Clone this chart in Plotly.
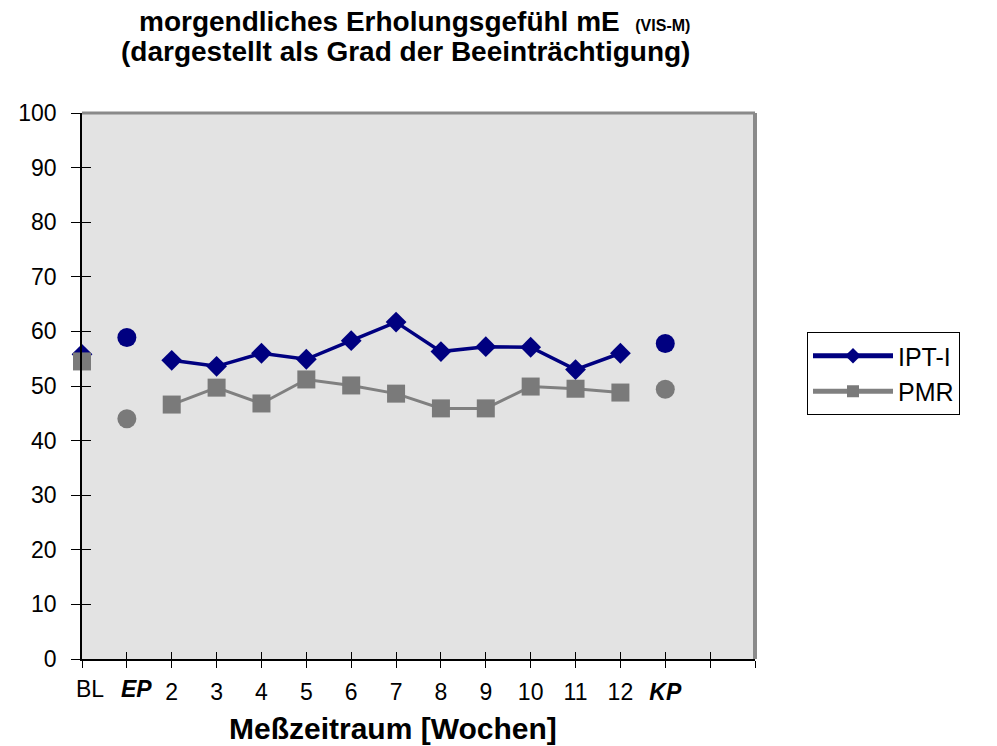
import plotly.graph_objects as go

# ---- data ----
categories = ["BL", "EP", "2", "3", "4", "5", "6", "7", "8", "9", "10", "11", "12", "KP", "", ""]
ipt_weekly = [55.8, None, 54.7, 53.6, 56.0, 54.9, 58.3, 61.7, 56.3, 57.2, 57.1, 53.0, 56.0, None, None, None]
pmr_weekly = [54.5, None, 46.6, 49.7, 46.8, 51.2, 50.1, 48.6, 45.9, 45.9, 49.9, 49.5, 48.8, None, None, None]
ipt_points = [None, 58.9, None, None, None, None, None, None, None, None, None, None, None, 57.8, None, None]
pmr_points = [None, 44.0, None, None, None, None, None, None, None, None, None, None, None, 49.4, None, None]
y_ticks = [0, 10, 20, 30, 40, 50, 60, 70, 80, 90, 100]

title_line1 = "morgendliches Erholungsgefühl mE"
title_suffix = "(VIS-M)"
title_line2 = "(dargestellt als Grad der Beeinträchtigung)"
x_title = "Meßzeitraum [Wochen]"

NAVY = "#000080"
GRAY = "#7a7a7a"
FONT = "Liberation Sans, Arial, sans-serif"

xs = list(range(len(categories)))
PW, PH, L, T = 673, 546, 82, 113   # plot size and margins (pixels)

fig = go.Figure()
fig.add_trace(go.Scatter(
    x=xs, y=ipt_weekly, name="IPT-I", mode="lines+markers",
    line=dict(color=NAVY, width=3.5),
    marker=dict(symbol="diamond", size=16, color=NAVY),
    cliponaxis=False, connectgaps=False))
fig.add_trace(go.Scatter(
    x=xs, y=pmr_weekly, name="PMR", mode="lines+markers",
    line=dict(color="#808080", width=3),
    marker=dict(symbol="square", size=18, color=GRAY),
    cliponaxis=False, connectgaps=False))
fig.add_trace(go.Scatter(
    x=xs, y=ipt_points, mode="markers", showlegend=False,
    marker=dict(symbol="circle", size=19, color=NAVY), cliponaxis=False))
fig.add_trace(go.Scatter(
    x=xs, y=pmr_points, mode="markers", showlegend=False,
    marker=dict(symbol="circle", size=19, color=GRAY), cliponaxis=False))
# invisible trace to activate overlay axes (inside tick marks -> crossing ticks)
fig.add_trace(go.Scatter(x=[None], y=[None], xaxis="x2", yaxis="y2",
                         showlegend=False, hoverinfo="skip"))

tick_labels = []
for c in categories:
    if c in ("BL", "EP"):
        tick_labels.append("")          # placed as offset annotations below
    elif c == "KP":
        tick_labels.append("<b><i>%s</i></b>" % c)
    else:
        tick_labels.append(c)

fig.update_layout(
    width=997, height=746,
    margin=dict(l=L, r=997 - L - PW, t=T, b=746 - T - PH),
    paper_bgcolor="white",
    plot_bgcolor="#e3e3e3",
    font=dict(family=FONT, color="black", size=23),
    xaxis=dict(
        range=[0, 15], tickmode="array", tickvals=xs, ticktext=tick_labels,
        ticks="outside", ticklen=7, tickwidth=1, tickcolor="black",
        showline=True, linecolor="black", linewidth=1.5,
        showgrid=False, zeroline=False, ticklabelstandoff=5),
    yaxis=dict(
        range=[0, 100], tickmode="array", tickvals=y_ticks,
        ticks="outside", ticklen=9, tickwidth=1, tickcolor="black",
        showline=True, linecolor="black", linewidth=1.5,
        showgrid=False, zeroline=False, ticklabelstandoff=10),
    xaxis2=dict(
        range=[0, 15], overlaying="x", anchor="y", side="bottom",
        tickmode="array", tickvals=xs, ticks="inside", ticklen=7, tickwidth=1,
        tickcolor="black", showticklabels=False, showgrid=False, zeroline=False,
        showline=False),
    yaxis2=dict(
        range=[0, 100], overlaying="y", anchor="x", side="left",
        tickmode="array", tickvals=y_ticks, ticks="inside", ticklen=9, tickwidth=1,
        tickcolor="black", showticklabels=False, showgrid=False, zeroline=False,
        showline=False),
    legend=dict(
        x=(807 - L) / PW, y=(T + PH - 332) / PH, xanchor="left", yanchor="top",
        bgcolor="white", bordercolor="black", borderwidth=1,
        font=dict(size=25, family=FONT), itemsizing="constant",
        itemwidth=80, tracegroupgap=0, entrywidth=180, entrywidthmode="pixels"),
    showlegend=True,
)

# gray frame on top and right of plot area
fig.add_shape(type="line", xref="paper", yref="paper", x0=0, x1=1, y0=1, y1=1,
              line=dict(color="#8a8a8a", width=3), layer="above")
fig.add_shape(type="line", xref="paper", yref="paper", x0=1, x1=1, y0=0, y1=1,
              line=dict(color="#8a8a8a", width=4), layer="above")

# offset labels for BL and EP
for idx, dx in ((0, 8), (1, 10)):
    lab = categories[idx]
    txt = "<b><i>%s</i></b>" % lab if lab == "EP" else lab
    fig.add_annotation(x=xs[idx], y=0, xref="x", yref="paper", text=txt,
                       showarrow=False, xanchor="center", yanchor="top",
                       yshift=-15, xshift=dx, font=dict(size=23, family=FONT))

# title (two lines)
fig.add_annotation(
    x=(414 - L) / PW, y=1 + (T - 22) / PH, xref="paper", yref="paper",
    text="<b>%s  <span style='font-size:16px'>%s</span></b>" % (title_line1, title_suffix),
    showarrow=False, xanchor="center", yanchor="middle", font=dict(size=28, family=FONT))
fig.add_annotation(
    x=(405 - L) / PW, y=1 + (T - 52) / PH, xref="paper", yref="paper",
    text="<b>%s</b>" % title_line2,
    showarrow=False, xanchor="center", yanchor="middle", font=dict(size=28, family=FONT))

# x axis title
fig.add_annotation(
    x=(393 - L) / PW, y=-(728 - T - PH) / PH, xref="paper", yref="paper",
    text="<b>%s</b>" % x_title, showarrow=False, xanchor="center", yanchor="middle",
    font=dict(size=30, family=FONT))

fig.write_html("out.html")
